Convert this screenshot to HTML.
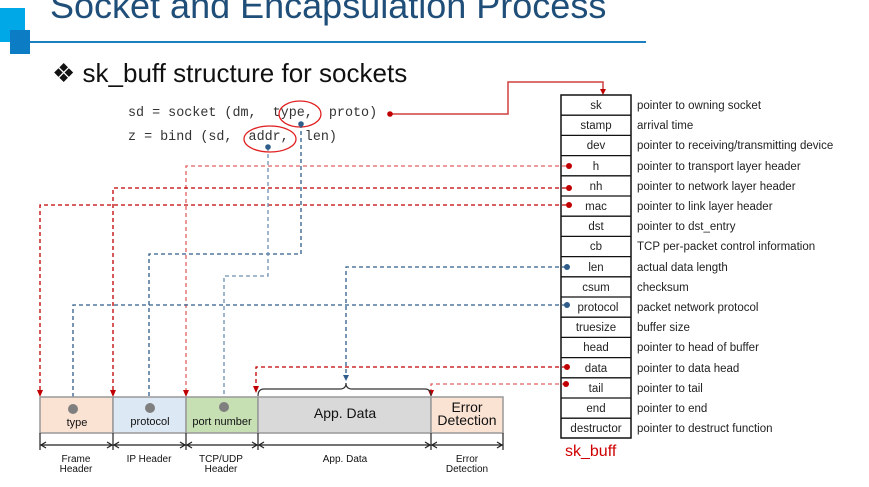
<!DOCTYPE html>
<html><head><meta charset="utf-8"><style>
body{margin:0;width:869px;height:487px;background:#fff;overflow:hidden;position:relative;font-family:"Liberation Sans",sans-serif}
.t{position:absolute;white-space:nowrap}
</style></head><body>
<div style="position:absolute;left:0;top:8px;width:25px;height:34px;background:#00a8e8"></div>
<div style="position:absolute;left:10px;top:30px;width:20px;height:24px;background:#0c7cc4"></div>
<div style="position:absolute;left:30px;top:41px;width:616px;height:2px;background:#1b7fc0"></div>
<div class="t" style="left:50px;top:-15px;font-size:36px;color:#1f4e79">Socket and Encapsulation Process</div>
<div class="t" style="left:52px;top:58px;font-size:26px;color:#111">❖ sk_buff structure for sockets</div>
<div class="t" style="left:128px;top:106px;font-family:'Liberation Mono',monospace;font-size:13.4px;color:#333">sd = socket (dm, &nbsp;type, &nbsp;proto)</div>
<div class="t" style="left:128px;top:130px;font-family:'Liberation Mono',monospace;font-size:13.4px;color:#333">z = bind (sd, &nbsp;addr, &nbsp;len)</div>
<svg width="869" height="487" style="position:absolute;left:0;top:0">
<ellipse cx="300" cy="114" rx="21" ry="13" fill="none" stroke="#e02020" stroke-width="1.3"/>
<ellipse cx="270" cy="139" rx="26" ry="13" fill="none" stroke="#e02020" stroke-width="1.3"/>
<polyline points="390,114 508,114 508,82 603,82 603,90" fill="none" stroke="#d04040" stroke-width="1.5"/>
<circle cx="390" cy="114" r="2.8" fill="#c00000"/>
<g fill="none" stroke-dasharray="4,3" stroke-width="1.3">
<polyline points="566,166 186,166 186,391" stroke="#e06060"/>
<polyline points="566,188 113,188 113,391" stroke="#c00000"/>
<polyline points="566,205 40,205 40,391" stroke="#c00000"/>
<polyline points="566,367 256,367 256,387" stroke="#c00000"/>
<polyline points="566,384 431,384 431,391" stroke="#e06060"/>
<polyline points="301,124 301,254 149,254 149,400" stroke="#2f5d8a"/>
<polyline points="268,147 268,276 224,276 224,400" stroke="#6e8fb0"/>
<polyline points="566,267 346,267 346,376" stroke="#2f5d8a"/>
<polyline points="566,305 73,305 73,400" stroke="#2f5d8a"/>
</g>
<g fill="#c00000">
<path d="M600,89h6l-3,6z"/>
<path d="M183,390h6l-3,7z"/><path d="M110,390h6l-3,7z"/><path d="M37,390h6l-3,7z"/><path d="M253,386h6l-3,7z"/><path d="M428,390h6l-3,7z"/>
</g>
<g fill="#2f5d8a">
<path d="M146,399h6l-3,6z"/><path d="M221,399h6l-3,6z"/><path d="M343,375h6l-3,6z"/><path d="M70,399h6l-3,6z"/>
</g>
<g fill="#c00000"><circle cx="569" cy="166" r="3"/><circle cx="569" cy="188" r="3"/><circle cx="569" cy="205" r="3"/><circle cx="567" cy="367" r="3"/><circle cx="566" cy="384" r="3"/></g>
<g fill="#2f5d8a"><circle cx="301" cy="124" r="2.8"/><circle cx="268" cy="147" r="2.8"/><circle cx="567" cy="267" r="3"/><circle cx="567" cy="305" r="3"/></g>
<path d="M258,396 Q258,389 264,389 L340,389 Q346,389 346,383 Q346,389 352,389 L425,389 Q431,389 431,396" fill="none" stroke="#333" stroke-width="1.2"/>
<g stroke="#999" stroke-width="1.5">
<rect x="40" y="397" width="73" height="36" fill="#fbe3d4"/>
<rect x="113" y="397" width="73" height="36" fill="#dde8f5"/>
<rect x="186" y="397" width="72" height="36" fill="#c6e0b4"/>
<rect x="258" y="397" width="173" height="36" fill="#d9d9d9"/>
<rect x="431" y="397" width="72" height="36" fill="#fbe3d4"/>
</g>
<g fill="#7f7f7f"><circle cx="73" cy="409" r="5"/><circle cx="150" cy="408" r="5"/><circle cx="224" cy="407" r="5"/></g>
<g stroke="#222" stroke-width="1.2" fill="none">
<path d="M40,433V450M113,433V450M186,433V450M258,433V450M431,433V450M503,433V450"/>
<path d="M40,445H503"/>
<path d="M46,442L41,445L46,448M107,442L112,445L107,448M119,442L114,445L119,448M180,442L185,445L180,448M192,442L187,445L192,448M252,442L257,445L252,448M264,442L259,445L264,448M425,442L430,445L425,448M437,442L432,445L437,448M497,442L502,445L497,448"/>
</g>
<g font-family="Liberation Sans,sans-serif" text-anchor="middle" fill="#111">
<text x="77" y="426" font-size="11">type</text>
<text x="150" y="425" font-size="11">protocol</text>
<text x="222" y="425" font-size="11">port number</text>
<text x="345" y="418" font-size="14">App. Data</text>
<text x="467" y="412" font-size="14">Error</text>
<text x="467" y="425" font-size="14">Detection</text>
<text x="76" y="462" font-size="10">Frame</text><text x="76" y="472" font-size="10">Header</text>
<text x="149" y="462" font-size="10">IP Header</text>
<text x="221" y="462" font-size="10">TCP/UDP</text><text x="221" y="472" font-size="10">Header</text>
<text x="345" y="462" font-size="10">App. Data</text>
<text x="467" y="462" font-size="10">Error</text><text x="467" y="472" font-size="10">Detection</text>
</g>
<g font-family="Liberation Sans,sans-serif" font-size="11.5" fill="#222">
<rect x="561" y="95" width="70" height="343" fill="none" stroke="#111" stroke-width="1.5"/>
<g stroke="#111" stroke-width="1.3">
<path d="M561,115.2H631M561,135.4H631M561,155.6H631M561,175.8H631M561,196H631M561,216.2H631M561,236.4H631M561,256.6H631M561,276.8H631M561,297H631M561,317.2H631M561,337.4H631M561,357.6H631M561,377.8H631M561,398H631M561,418.2H631"/>
</g>
<g text-anchor="middle">
<text x="596" y="109">sk</text><text x="596" y="129">stamp</text><text x="596" y="149">dev</text><text x="596" y="170">h</text><text x="596" y="190">nh</text><text x="596" y="210">mac</text><text x="596" y="230">dst</text><text x="596" y="250">cb</text><text x="596" y="271">len</text><text x="596" y="291">csum</text><text x="598" y="311">protocol</text><text x="596" y="331">truesize</text><text x="596" y="351">head</text><text x="596" y="372">data</text><text x="596" y="392">tail</text><text x="596" y="412">end</text><text x="596" y="432">destructor</text>
</g>
<g>
<text x="637" y="109">pointer to owning socket</text><text x="637" y="129">arrival time</text><text x="637" y="149">pointer to receiving/transmitting device</text><text x="637" y="170">pointer to transport layer header</text><text x="637" y="190">pointer to network layer header</text><text x="637" y="210">pointer to link layer header</text><text x="637" y="230">pointer to dst_entry</text><text x="637" y="250">TCP per-packet control information</text><text x="637" y="271">actual data length</text><text x="637" y="291">checksum</text><text x="637" y="311">packet network protocol</text><text x="637" y="331">buffer size</text><text x="637" y="351">pointer to head of buffer</text><text x="637" y="372">pointer to data head</text><text x="637" y="392">pointer to tail</text><text x="637" y="412">pointer to end</text><text x="637" y="432">pointer to destruct function</text>
</g>
<text x="565" y="456" font-size="16" fill="#d00000">sk_buff</text>
</g>
</svg>
</body></html>
